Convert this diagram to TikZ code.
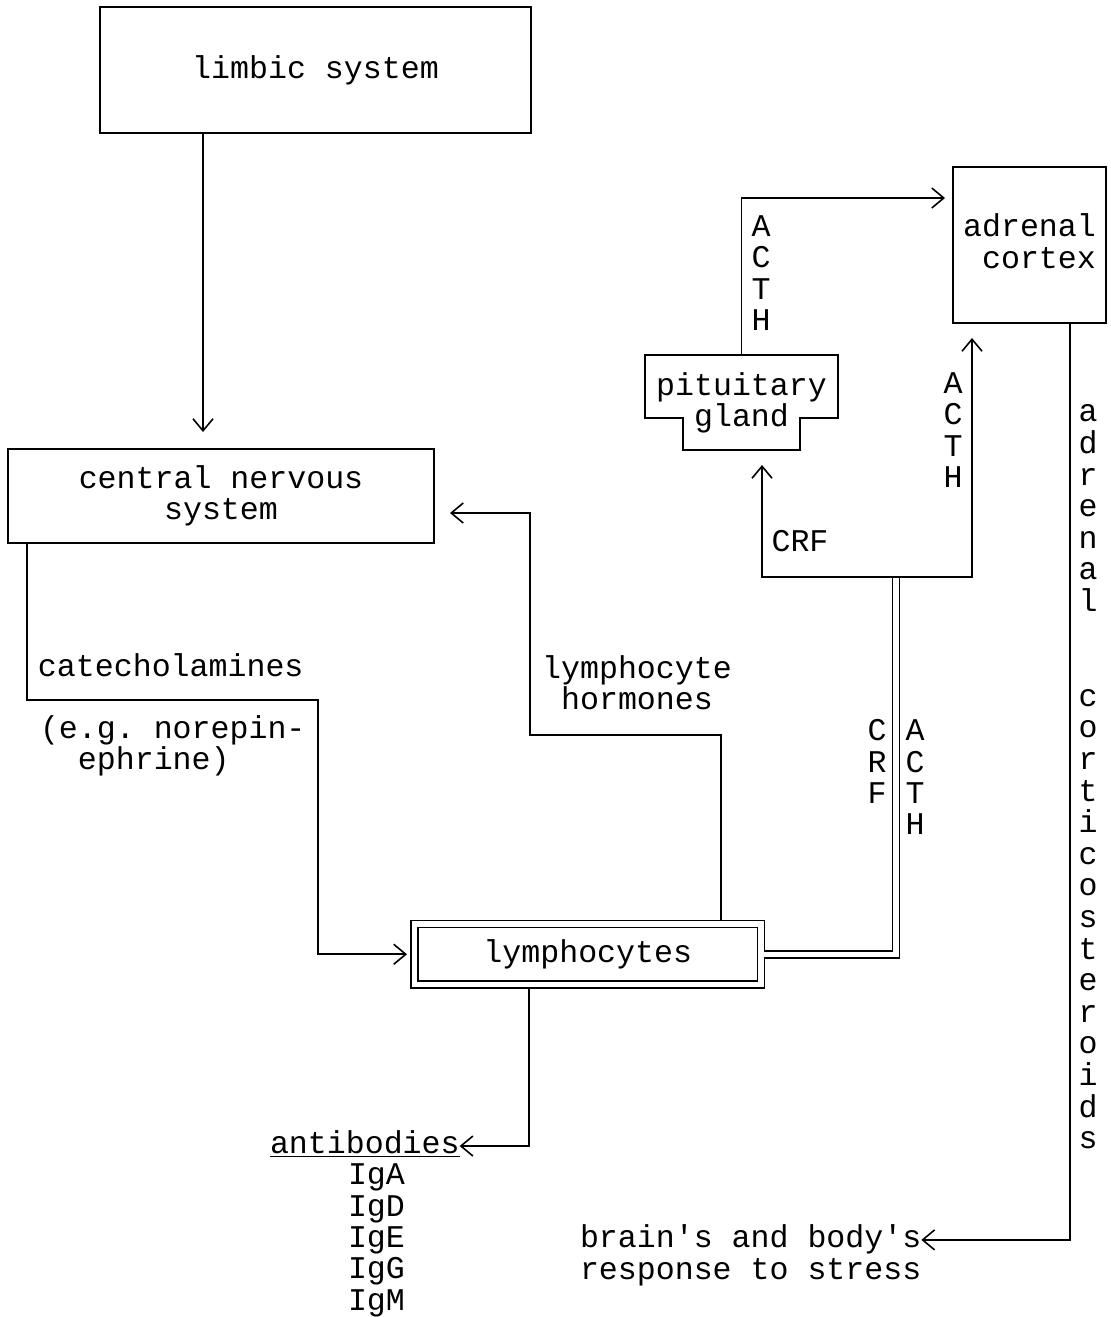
\documentclass[tikz,border=0pt]{standalone}
\usepackage{fontspec}
\setmainfont{Liberation Mono}
\usetikzlibrary{arrows.meta}
\frenchspacing

\begin{document}
\begin{tikzpicture}[x=0.5pt,y=-0.5pt,>={Straight Barb[length=6pt,width=10pt]},line join=miter,
  line width=0.8pt,font=\fontsize{15.8}{15.65}\selectfont,
  box/.style={draw,inner sep=0pt,outer sep=0pt,align=center},
  txt/.style={inner sep=0pt,outer sep=0pt,align=center},
  dbl/.style={double,double distance=2.7pt}]
  \useasboundingbox (0,0) rectangle (1111,1317);
%%
  % Node: limbic system
  \node[box,minimum width=215.5pt,minimum height=63pt] (limbic) at (315.5,70) {limbic system};
  % Node: central nervous system
  \node[box,minimum width=213pt,minimum height=47pt] (cns) at (221,496) {central nervous\\system};
  % Node: lymphocytes
  \node[box,dbl,minimum width=173.25pt,minimum height=30.25pt] (lymph) at (587.75,954.25) {lymphocytes};
  % Node: pituitary gland
  \node[txt,minimum width=96.5pt,minimum height=47.5pt] (pit) at (741.5,402.5) {pituitary\\gland};
  \draw (pit.north west) -- (pit.north east) -- ++(0,63) -- ++(-38,0) -- ++(0,32)
    -- ++(-117,0) -- ++(0,-32) -- ++(-38,0) -- cycle;
  % Node: adrenal cortex
  \node[box,align=right,text depth=4pt,minimum width=76.5pt,minimum height=78pt] (adrenal) at (1029.5,245) {adrenal\\cortex};
  % Node: antibodies
  \node[txt,anchor=west] (antib) at (270,1144) {\underline{antibodies}};
  \node[txt,anchor=north west,align=left] (ig) at (348,1164) {IgA\\IgD\\IgE\\IgG\\IgM};
  % Node: brain's and body's response to stress
  \node[txt,anchor=north west,align=left] (stress) at (580,1225)
    {brain\textquotesingle s and body\textquotesingle s\\response to stress};
%
  % Labels
  \node[txt,anchor=west] (cat) at (38,665) {catecholamines};
  \node[txt,anchor=west,align=left] (nor) at (40,745.5) {(e.g. norepin-\\\phantom{(e}ephrine)};
  \node[txt] (lymhor) at (637,682.5) {lymphocyte\\hormones};
  \node[txt] (acth-a) at (761,273) {A\\C\\T\\H};
  \node[txt] (acth-b) at (953,430) {A\\C\\T\\H};
  \node[txt] (crf-a) at (800,541) {CRF};
  \node[txt] (crf-b) at (877,761.5) {C\\R\\F};
  \node[txt] (acth-c) at (915,777.5) {A\\C\\T\\H};
  \node[txt,font=\fontsize{15.8}{15.8}\selectfont] (cortico) at (1088,777)
    {a\\d\\r\\e\\n\\a\\l\\[31.6pt]c\\o\\r\\t\\i\\c\\o\\s\\t\\e\\r\\o\\i\\d\\s};
%
  \coordinate (split) at (896,577);
  \coordinate (crf-turn) at (762,577);
  \coordinate (acth-turn) at (972,577);
  % Edge: limbic system -> central nervous system
  \draw[->,shorten >=8.5pt] (limbic.south -| 203,0) -- (cns.north -| 203,0);
  % Edge: central nervous system -> lymphocytes
  \draw[->,shorten >=3.75pt] (cns.south -| 27,0) |- (318,700) |- (lymph.west);
  % Edge: lymphocytes -> central nervous system
  \draw[->,shorten <=2.15pt,shorten >=8pt] (lymph.north -| 721,0) |- (530,735) |- ([yshift=-8.5pt]cns.east);
  % Edge: lymphocytes -> antibodies
  \draw[->,shorten <=2.15pt] (lymph.south -| 529,0) |- ([yshift=-1pt]antib.east);
  % Edge: lymphocytes -> split
  \draw[dbl] ([xshift=1.35pt]lymph.east) -| (split);
  % Edge: split -> pituitary gland, split -> adrenal cortex
  \draw[<->,shorten <=7.5pt,shorten >=7.5pt] (pit.south -| crf-turn) |- (acth-turn) -- (adrenal.south -| acth-turn);
  % Edge: pituitary gland -> adrenal cortex
  \draw[->,shorten >=4pt] (pit.north) |- ([yshift=23.5pt]adrenal.west);
  % Edge: adrenal cortex -> brain's and body's response to stress
  \draw[->] (adrenal.south -| 1070,0) |- ([yshift=7.75pt]stress.east);
%
\end{tikzpicture}
\end{document}
